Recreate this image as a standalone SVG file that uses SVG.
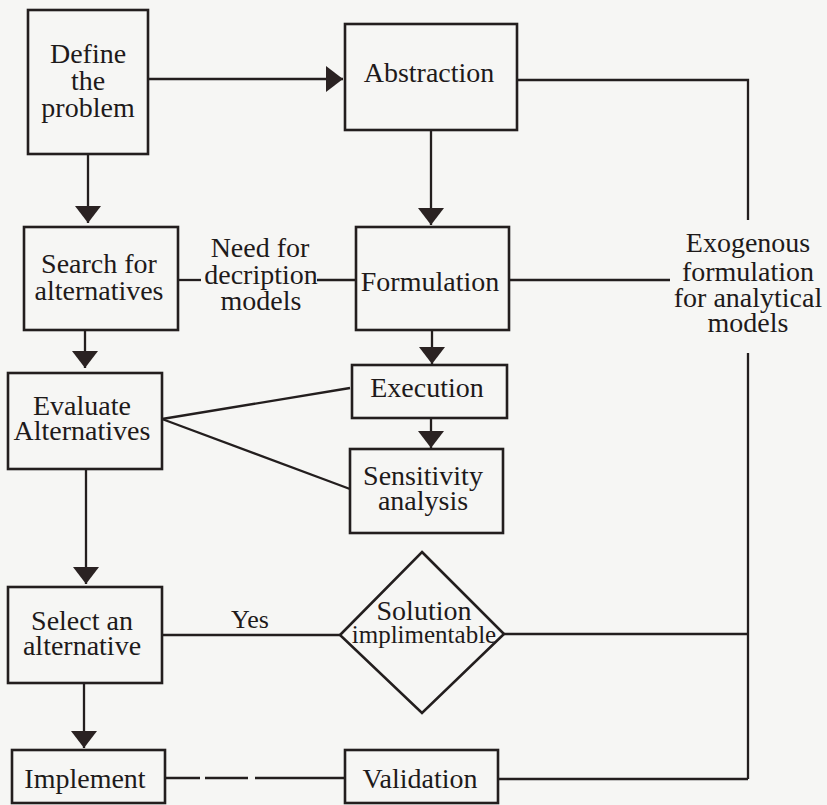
<svg xmlns="http://www.w3.org/2000/svg" width="827" height="805" viewBox="0 0 827 805">
  <style>
    .box { fill: none; stroke: #231e1e; stroke-width: 2.6; }
    .ln { fill: none; stroke: #231e1e; stroke-width: 2.3; }
    .t { font-family: "Liberation Serif", "Times New Roman", serif; font-size: 28px; fill: #1e1a1a; text-anchor: middle; }
    .s { font-size: 25px; }
  </style>
  <defs>
    <marker id="arr" markerUnits="userSpaceOnUse" markerWidth="18" markerHeight="26" refX="17" refY="13" orient="auto" viewBox="0 0 18 26">
      <path d="M0,0 L17,13 L0,26 z" fill="#2a2222"/>
    </marker>
  </defs>
  <rect width="827" height="805" fill="#f6f6f4"/>

  <g id="connectors">
    <path class="ln" d="M148,79 H343" marker-end="url(#arr)"/>
    <path class="ln" d="M88,154 V223" marker-end="url(#arr)"/>
    <path class="ln" d="M431,130 V225" marker-end="url(#arr)"/>
    <path class="ln" d="M517,80 H748 V220"/>
    <path class="ln" d="M178,280 H201"/>
    <path class="ln" d="M317,280 H356"/>
    <path class="ln" d="M509,280 H670"/>
    <path class="ln" d="M748,353 V779"/>
    <path class="ln" d="M432,330 V364" marker-end="url(#arr)"/>
    <path class="ln" d="M431,418 V448" marker-end="url(#arr)"/>
    <path class="ln" d="M85,330 V368" marker-end="url(#arr)"/>
    <path class="ln" d="M162,419 L350,388"/>
    <path class="ln" d="M162,419 L350,489"/>
    <path class="ln" d="M86,469 V584" marker-end="url(#arr)"/>
    <path class="ln" d="M162,635 H340"/>
    <path class="ln" d="M504,634 H748"/>
    <path class="ln" d="M84,683 V748" marker-end="url(#arr)"/>
    <path class="ln" d="M165,778 H345" stroke-dasharray="35 5 43 7 200"/>
    <path class="ln" d="M498,779 H748"/>
    <text class="t" x="260" y="257">Need for</text>
    <text class="t" x="261" y="284">decription</text>
    <text class="t" x="261" y="310">models</text>
    <text class="t" x="250" y="628" style="font-size:26px">Yes</text>
  </g>

  <g id="define">
    <rect class="box" x="28" y="10" width="120" height="144"/>
    <text class="t" x="88" y="63">Define</text>
    <text class="t" x="88" y="90">the</text>
    <text class="t" x="88" y="117">problem</text>
  </g>
  <g id="abstraction">
    <rect class="box" x="345" y="24" width="172" height="106"/>
    <text class="t" x="429" y="82">Abstraction</text>
  </g>
  <g id="search">
    <rect class="box" x="24" y="227" width="154" height="103"/>
    <text class="t" x="99" y="273">Search for</text>
    <text class="t" x="99" y="300">alternatives</text>
  </g>
  <g id="formulation">
    <rect class="box" x="356" y="227" width="153" height="103"/>
    <text class="t" x="430" y="291">Formulation</text>
  </g>
  <g id="exogenous">
    <text class="t" x="748" y="252">Exogenous</text>
    <text class="t" x="748" y="281">formulation</text>
    <text class="t" x="748" y="307">for analytical</text>
    <text class="t" x="748" y="332">models</text>
  </g>
  <g id="execution">
    <rect class="box" x="352" y="365" width="155" height="53"/>
    <text class="t" x="427" y="397">Execution</text>
  </g>
  <g id="sensitivity">
    <rect class="box" x="350" y="449" width="153" height="84"/>
    <text class="t" x="423" y="485">Sensitivity</text>
    <text class="t" x="423" y="510">analysis</text>
  </g>
  <g id="evaluate">
    <rect class="box" x="8" y="373" width="154" height="96"/>
    <text class="t" x="82" y="415">Evaluate</text>
    <text class="t" x="82" y="440">Alternatives</text>
  </g>
  <g id="select">
    <rect class="box" x="8" y="587" width="154" height="96"/>
    <text class="t" x="82" y="630">Select an</text>
    <text class="t" x="82" y="655">alternative</text>
  </g>
  <g id="solution">
    <path class="box" d="M422,552 L504,634 L422,713 L340,635 z"/>
    <text class="t" x="424" y="620">Solution</text>
    <text class="t s" x="424" y="643">implimentable</text>
  </g>
  <g id="implement">
    <rect class="box" x="12" y="750" width="153" height="53"/>
    <text class="t" x="85" y="788">Implement</text>
  </g>
  <g id="validation">
    <rect class="box" x="345" y="750" width="153" height="53"/>
    <text class="t" x="420" y="788">Validation</text>
  </g>
</svg>
